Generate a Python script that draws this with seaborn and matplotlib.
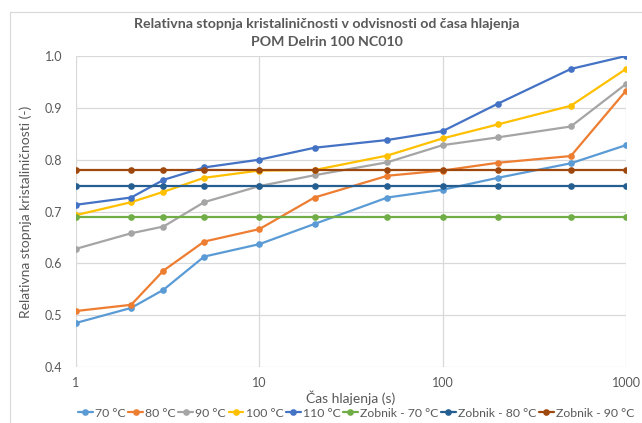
import numpy as np
import pandas as pd
import matplotlib
matplotlib.use("Agg")
import matplotlib.pyplot as plt
import seaborn as sns
from matplotlib.ticker import FixedLocator, NullLocator, FixedFormatter

# Cooling times (s)
cas = [1, 2, 3, 5, 10, 20, 50, 100, 200, 500, 1000]

# Relative crystallinity per mould temperature
t70 = [0.485, 0.514, 0.549, 0.613, 0.637, 0.676, 0.727, 0.742, 0.765, 0.793, 0.828]
t80 = [0.508, 0.520, 0.586, 0.642, 0.666, 0.727, 0.769, 0.779, 0.794, 0.807, 0.933]
t90 = [0.628, 0.658, 0.671, 0.718, 0.749, 0.770, 0.795, 0.828, 0.843, 0.864, 0.946]
t100 = [0.693, 0.718, 0.738, 0.765, 0.779, 0.780, 0.808, 0.841, 0.868, 0.904, 0.975]
t110 = [0.713, 0.727, 0.761, 0.785, 0.800, 0.823, 0.838, 0.855, 0.908, 0.975, 1.000]

# Gear (zobnik) reference levels
zob70 = [0.69] * len(cas)
zob80 = [0.75] * len(cas)
zob90 = [0.78] * len(cas)

serije = ["70 °C", "80 °C", "90 °C", "100 °C", "110 °C",
          "Zobnik - 70 °C", "Zobnik - 80 °C", "Zobnik - 90 °C"]
vrednosti = [t70, t80, t90, t100, t110, zob70, zob80, zob90]
barve = ["#5B9BD5", "#ED7D31", "#A5A5A5", "#FFC000", "#4472C4",
         "#70AD47", "#255E91", "#9E480E"]

x_ticks = [1, 10, 100, 1000]
x_tick_labels = ["1", "10", "100", "1000"]
y_ticks = [0.4, 0.5, 0.6, 0.7, 0.8, 0.9, 1.0]

naslov_1 = "Relativna stopnja kristaliničnosti v odvisnosti od časa hlajenja"
naslov_2 = "POM Delrin 100 NC010"

df = pd.DataFrame({
    "cas": np.tile(cas, len(serije)),
    "vrednost": np.concatenate(vrednosti),
    "serija": np.repeat(serije, len(cas)),
})

sns.set_theme(style="white")
plt.rcParams["font.family"] = ["Lato", "DejaVu Sans"]

W, H = 642, 423
fig = plt.figure(figsize=(W / 100, H / 100), dpi=100)
ax = fig.add_axes([76 / W, 1 - 367 / H, (626 - 76) / W, (367 - 56) / H])

sns.lineplot(data=df, x="cas", y="vrednost", hue="serija", hue_order=serije,
             palette=barve, marker="o", markersize=4.8, markeredgewidth=0,
             linewidth=1.6, ax=ax, legend=True)

ax.set_xscale("log")
ax.set_xlim(1, 1000)
ax.set_ylim(0.4, 1.0)
ax.xaxis.set_major_locator(FixedLocator(x_ticks))
ax.xaxis.set_major_formatter(FixedFormatter(x_tick_labels))
ax.xaxis.set_minor_locator(NullLocator())
ax.set_yticks(y_ticks)
ax.set_yticklabels([f"{v:.1f}" for v in y_ticks])

ax.grid(True, color="#D9D9D9", linewidth=0.9)
ax.set_axisbelow(True)
for s in ax.spines.values():
    s.set_visible(False)
ax.tick_params(axis="both", length=0, labelsize=9, colors="#595959")
ax.tick_params(axis="x", pad=7)
ax.tick_params(axis="y", pad=10)

ax.set_xlabel("Čas hlajenja (s)", fontsize=10, color="#595959", labelpad=1)
ax.set_ylabel("Relativna stopnja kristaliničnosti (-)", fontsize=10,
              color="#595959", labelpad=9)

for besedilo, y_px in [(naslov_1, 28), (naslov_2, 46)]:
    fig.text(327 / W, 1 - y_px / H, besedilo, ha="center", va="baseline",
             fontsize=10.2, fontweight="bold", color="#595959")

handles, labels = ax.get_legend_handles_labels()
ax.legend_.remove()
leg = fig.legend(handles, labels, loc="center left",
                 bbox_to_anchor=(78 / W, 1 - 413 / H), ncol=8, frameon=False,
                 fontsize=8.8, handlelength=1.2, handletextpad=0.2,
                 columnspacing=0.2, borderaxespad=0.0, borderpad=0.0)
for t in leg.get_texts():
    t.set_color("#595959")

# Outer chart frame (top and left edges)
fig.add_artist(plt.Line2D([10 / W, 1], [1 - 12 / H, 1 - 12 / H],
                          transform=fig.transFigure, color="#D9D9D9", linewidth=0.8))
fig.add_artist(plt.Line2D([10 / W, 10 / W], [0, 1 - 12 / H],
                          transform=fig.transFigure, color="#D9D9D9", linewidth=0.8))

fig.savefig("out.png", dpi=100)
